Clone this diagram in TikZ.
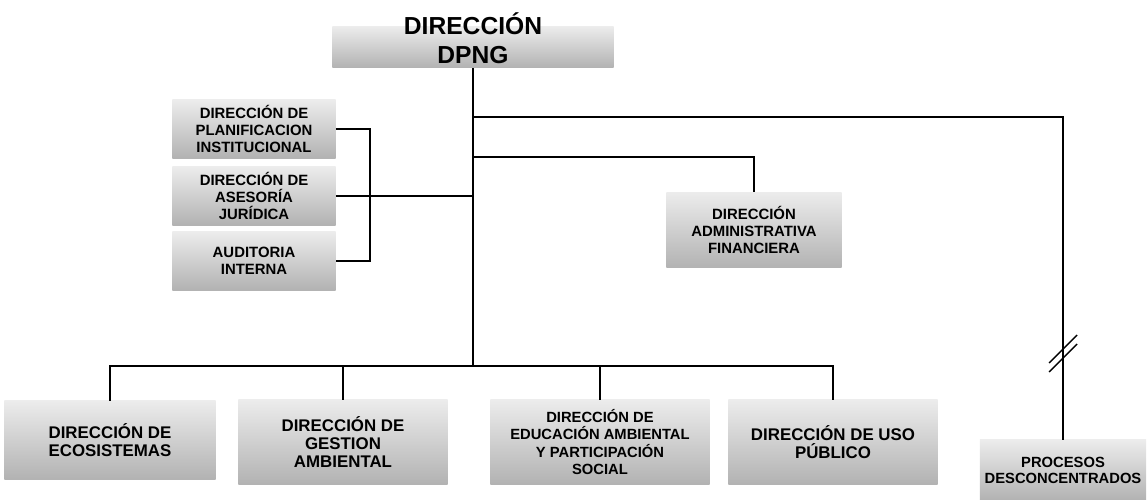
\documentclass[tikz,border=0pt]{standalone}
\usepackage{fontspec}
\setmainfont{Liberation Sans}
\usetikzlibrary{calc, positioning}
\tikzset{
    unit/.style={rectangle, top color=gray!15, bottom color=gray!60, draw=none, align=center, inner sep=0pt},
    big/.style={font=\bfseries\fontsize{12}{13}\selectfont},
    small/.style={font=\bfseries\fontsize{10.6}{12.2}\selectfont},
    head/.style={font=\bfseries\fontsize{17.5}{21}\selectfont, align=center, inner sep=0pt},
    link/.style={line width=1pt},
    trunk/.style={line width=1.8pt}
}
\begin{document}
\begin{tikzpicture}[x=0.025cm, y=-0.025cm]
    \useasboundingbox (0,0) rectangle (1147,500);

    % Head
    \node[unit, minimum width=7.025cm, minimum height=1.025cm] (dpng) at (473,47) {};
    \node[head] (dpngtext) at (473,38) {DIRECCIÓN\\DPNG};

    % Staff units
    \node[unit, small, minimum width=4.075cm, minimum height=1.45cm] (planif) at (254,129) {DIRECCIÓN DE\\PLANIFICACION\\INSTITUCIONAL};
    \node[unit, small, minimum width=4.075cm, minimum height=1.45cm] (asesoria) at (254,196) {DIRECCIÓN DE\\ASESORÍA\\JURÍDICA};
    \node[unit, small, minimum width=4.075cm, minimum height=1.45cm] (auditoria) at (254,261) {AUDITORIA\\INTERNA};
    \node[unit, small, minimum width=4.375cm, minimum height=1.875cm] (admin) at (754,230) {DIRECCIÓN\\ADMINISTRATIVA\\FINANCIERA};

    % Line units
    \node[unit, big, minimum width=5.275cm, minimum height=1.95cm] (ecos) at (110,440) {DIRECCIÓN DE\\ECOSISTEMAS};
    \node[unit, big, minimum width=5.225cm, minimum height=2.1cm] (gestion) at (343,442) {DIRECCIÓN DE\\GESTION\\AMBIENTAL};
    \node[unit, font=\bfseries\fontsize{10.5}{12.5}\selectfont, minimum width=5.475cm, minimum height=2.1cm] (educ) at (600,442) {DIRECCIÓN DE\\EDUCACIÓN AMBIENTAL\\Y PARTICIPACIÓN\\SOCIAL};
    \node[unit, big, minimum width=5.225cm, minimum height=2.1cm] (uso) at (833,442) {DIRECCIÓN DE USO\\PÚBLICO};
    \node[unit, font=\bfseries\fontsize{10.5}{11.5}\selectfont, minimum width=4.15cm, minimum height=1.5cm] (procesos) at (1063,470) {PROCESOS\\DESCONCENTRADOS};

    % Junctions
    \coordinate (hub) at (473,366);
    \coordinate (jproc) at (473,117);
    \coordinate (jadm) at (473,157);
    \coordinate (jase) at (473,196);
    \coordinate (brk) at (370,196);
    \coordinate (cut) at (1063,355);

    \draw[trunk] (dpng.south) -- (hub);
    \draw[link] (ecos.north) -- (ecos.north |- hub) -- (uso.north |- hub) -- (uso.north);
    \foreach \n in {gestion, educ}
        \draw[link] (\n.north) -- (\n.north |- hub);
    \draw[link] (jproc) -| (procesos.north);
    \draw[link] (jadm) -| (admin.north);
    \draw[trunk] (asesoria.east) -- (jase);
    \draw[link] (planif.east) -| (brk) |- (auditoria.east);
    \foreach \dy in {-5,4}
        \draw[link] ($(cut)+(-14,\dy+13)$) -- ++(28,-28);
\end{tikzpicture}
\end{document}
